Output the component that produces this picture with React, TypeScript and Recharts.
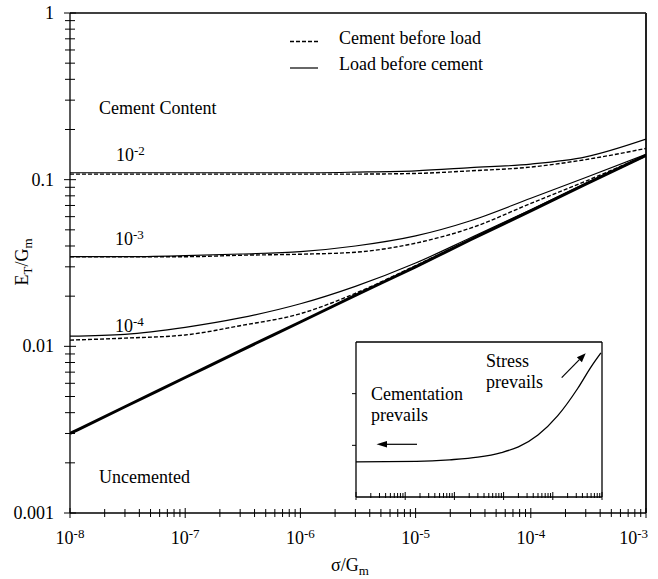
import React from "react";
import { LineChart, Line, XAxis, YAxis, ReferenceLine } from "recharts";

const FONT = "'Liberation Serif', 'Times New Roman', serif";

// main chart: sigma/Gm vs ET/Gm
const sigma = [1e-8, 3e-8, 1e-7, 3e-7, 1e-6, 3e-6, 1e-5, 3e-5, 1e-4, 3e-4, 1e-3];
const uncemented = [0.003, 0.00434, 0.0065, 0.0094, 0.014, 0.0202, 0.03, 0.0436, 0.065, 0.094, 0.14];
const solid2 = [0.11, 0.11, 0.11, 0.11, 0.11, 0.111, 0.113, 0.118, 0.124, 0.137, 0.175];
const dashed2 = [0.108, 0.108, 0.108, 0.108, 0.108, 0.108, 0.109, 0.113, 0.119, 0.132, 0.154];
const solid3 = [0.0345, 0.0345, 0.035, 0.0358, 0.037, 0.04, 0.046, 0.0567, 0.0773, 0.103, 0.142];
const dashed3 = [0.0345, 0.0345, 0.0345, 0.0352, 0.0357, 0.0367, 0.0416, 0.0512, 0.072, 0.098, 0.14];
const solid4 = [0.0115, 0.0118, 0.013, 0.0148, 0.018, 0.0229, 0.0316, 0.0448, 0.066, 0.095, 0.14];
const dashed4 = [0.0109, 0.0112, 0.0117, 0.0133, 0.0157, 0.0208, 0.0305, 0.0438, 0.065, 0.094, 0.139];

// inset curve
const insetSigma = [1e-8, 1.7e-7, 8e-7, 3e-6, 9e-6, 2e-5, 5e-5, 1.25e-4, 3.2e-4, 6e-4, 9.5e-4];
const insetE = [0.68, 0.69, 0.72, 0.77, 0.86, 0.97, 1.2, 1.57, 2.1, 2.52, 2.79];

// axis ticks
const xDecades = [1e-8, 1e-7, 1e-6, 1e-5, 1e-4, 1e-3];
const yDecades = [0.001, 0.01, 0.1, 1];
const yLabels = ["0.001", "0.01", "0.1", "1"];
const minorSteps = [2, 3, 4, 5, 6, 7, 8, 9];

const withMinor = (decades: number[]) => {
  const out: number[] = [];
  decades.forEach((d, i) => {
    out.push(d);
    if (i < decades.length - 1) minorSteps.forEach((m) => out.push(d * m));
  });
  return out;
};
const xTicks = withMinor(xDecades);
const yTicks = withMinor(yDecades);

const isDecade = (v: number) => Math.abs(Math.log10(v) - Math.round(Math.log10(v))) < 1e-6;

const rows = sigma.map((x, i) => ({
  x,
  unc: uncemented[i],
  s2: solid2[i],
  d2: dashed2[i],
  s3: solid3[i],
  d3: dashed3[i],
  s4: solid4[i],
  d4: dashed4[i],
}));
const insetRows = insetSigma.map((x, i) => ({ x, e: insetE[i] }));

const XTick = (props: any) => {
  const { x, y, payload } = props;
  const major = isDecade(payload.value);
  const exp = Math.round(Math.log10(payload.value));
  const last = exp === -3;
  return (
    <g>
      <line x1={x} x2={x} y1={y - (major ? 5 : 4)} y2={y + (major ? 5 : 4)} stroke="#000" strokeWidth={1} />
      {major && (
        <text
          x={last ? x + 2 : x}
          y={y + 31}
          textAnchor={last ? "end" : "middle"}
          fontFamily={FONT}
          fontSize={18}
          fill="#000"
        >
          10
          <tspan dy={-6} fontSize={13}>
            {String(exp)}
          </tspan>
        </text>
      )}
    </g>
  );
};

const YTick = (props: any) => {
  const { x, y, payload } = props;
  const idx = yDecades.findIndex((d) => Math.abs(d - payload.value) / d < 1e-6);
  const major = idx >= 0;
  return (
    <g>
      <line x1={x - (major ? 6 : 5)} x2={x + (major ? 6 : 5)} y1={y} y2={y} stroke="#000" strokeWidth={1} />
      {major && (
        <text x={x - 16} y={y + 6} textAnchor="end" fontFamily={FONT} fontSize={18} fill="#000">
          {yLabels[idx]}
        </text>
      )}
    </g>
  );
};

const InsetXTick = (props: any) => {
  const { x, y, payload } = props;
  const major = isDecade(payload.value);
  return <line x1={x} x2={x} y1={y - (major ? 5 : 4)} y2={y + (major ? 3 : 1)} stroke="#000" strokeWidth={1} />;
};

const InsetYTick = (props: any) => {
  const { x, y } = props;
  return <line x1={x - 4} x2={x} y1={y} y2={y} stroke="#000" strokeWidth={1} />;
};

const dash = "4 2";

export default function App() {
  return (
    <div style={{ position: "absolute", left: 0, top: 0, width: 658, height: 579, background: "#fff" }}>
      <LineChart width={658} height={579} data={rows} margin={{ top: 13, right: 12, left: 0, bottom: 0 }}>
        <XAxis
          dataKey="x"
          type="number"
          scale="log"
          domain={[1e-8, 1e-3]}
          allowDataOverflow
          ticks={xTicks}
          interval={0}
          tick={<XTick />}
          tickLine={false}
          tickSize={0}
          tickMargin={0}
          height={66}
          axisLine={{ stroke: "#000", strokeWidth: 1.3 }}
        />
        <YAxis
          type="number"
          scale="log"
          domain={[0.001, 1]}
          allowDataOverflow
          ticks={yTicks}
          interval={0}
          tick={<YTick />}
          tickLine={false}
          tickSize={0}
          tickMargin={0}
          width={70}
          axisLine={{ stroke: "#000", strokeWidth: 1.3 }}
        />
        <ReferenceLine y={1} stroke="#000" strokeWidth={1.3} />
        <ReferenceLine x={1e-3} stroke="#222" strokeWidth={2} />
        <Line dataKey="unc" type="monotone" stroke="#000" strokeWidth={3} dot={false} isAnimationActive={false} />
        <Line dataKey="d2" type="monotone" stroke="#000" strokeWidth={1.4} strokeDasharray={dash} dot={false} isAnimationActive={false} />
        <Line dataKey="s2" type="monotone" stroke="#000" strokeWidth={1.2} dot={false} isAnimationActive={false} />
        <Line dataKey="d3" type="monotone" stroke="#000" strokeWidth={1.4} strokeDasharray={dash} dot={false} isAnimationActive={false} />
        <Line dataKey="s3" type="monotone" stroke="#000" strokeWidth={1.2} dot={false} isAnimationActive={false} />
        <Line dataKey="d4" type="monotone" stroke="#000" strokeWidth={1.4} strokeDasharray={dash} dot={false} isAnimationActive={false} />
        <Line dataKey="s4" type="monotone" stroke="#000" strokeWidth={1.2} dot={false} isAnimationActive={false} />
      </LineChart>

      <div style={{ position: "absolute", left: 340, top: 330 }}>
        <LineChart width={270} height={180} data={insetRows} margin={{ top: 12, right: 8, left: 15, bottom: 12 }}>
          <XAxis
            dataKey="x"
            type="number"
            scale="log"
            domain={[1e-8, 1e-3]}
            allowDataOverflow
            ticks={xTicks}
            interval={0}
            tick={<InsetXTick />}
            tickLine={false}
            tickSize={0}
            tickMargin={0}
            height={1}
            axisLine={{ stroke: "#000", strokeWidth: 1.3 }}
          />
          <YAxis
            type="number"
            domain={[0, 3]}
            allowDataOverflow
            ticks={[1, 2]}
            interval={0}
            tick={<InsetYTick />}
            tickLine={false}
            tickSize={0}
            tickMargin={0}
            width={1}
            axisLine={{ stroke: "#000", strokeWidth: 1.3 }}
          />
          <ReferenceLine y={3} stroke="#000" strokeWidth={1.3} />
          <ReferenceLine x={1e-3} stroke="#000" strokeWidth={1.3} />
          <Line dataKey="e" type="monotone" stroke="#000" strokeWidth={1.3} dot={false} isAnimationActive={false} />
        </LineChart>
      </div>

      <svg
        width={658}
        height={579}
        style={{ position: "absolute", left: 0, top: 0, pointerEvents: "none" }}
        fontFamily={FONT}
        fontSize={18}
        fill="#000"
      >
        {/* legend */}
        <line x1={290} x2={318} y1={41.5} y2={41.5} stroke="#000" strokeWidth={1.4} strokeDasharray={dash} />
        <text x={339} y={44}>Cement before load</text>
        <line x1={290} x2={318} y1={68} y2={68} stroke="#000" strokeWidth={1.2} />
        <text x={339} y={70}>Load before cement</text>

        {/* annotations */}
        <text x={99} y={114}>Cement Content</text>
        <text x={116} y={161}>
          10<tspan dy={-6} fontSize={13}>-2</tspan>
        </text>
        <text x={115} y={245}>
          10<tspan dy={-6} fontSize={13}>-3</tspan>
        </text>
        <text x={115} y={332}>
          10<tspan dy={-6} fontSize={13}>-4</tspan>
        </text>
        <text x={99} y={483}>Uncemented</text>

        {/* axis titles */}
        <text x={350} y={571} textAnchor="middle">
          σ/G<tspan dy={4} fontSize={13}>m</tspan>
        </text>
        <text x={28} y={262} textAnchor="middle" transform="rotate(-90 28 262)">
          E<tspan dy={4} fontSize={13}>T</tspan>
          <tspan dy={-4}>/G</tspan>
          <tspan dy={4} fontSize={13}>m</tspan>
        </text>

        {/* inset annotations */}
        <text x={486} y={367}>Stress</text>
        <text x={486} y={388}>prevails</text>
        <text x={371} y={400}>Cementation</text>
        <text x={371} y={421}>prevails</text>
        <line x1={386} x2={417} y1={444.3} y2={444.3} stroke="#000" strokeWidth={1.2} />
        <polygon points="376.5,444.3 387,441 387,447.6" fill="#000" />
        <line x1={561.7} y1={377.7} x2={579.4} y2={359.7} stroke="#000" strokeWidth={1.2} />
        <polygon points="585.7,353.3 581.9,362.2 576.9,357.2" fill="#000" />
      </svg>
    </div>
  );
}
